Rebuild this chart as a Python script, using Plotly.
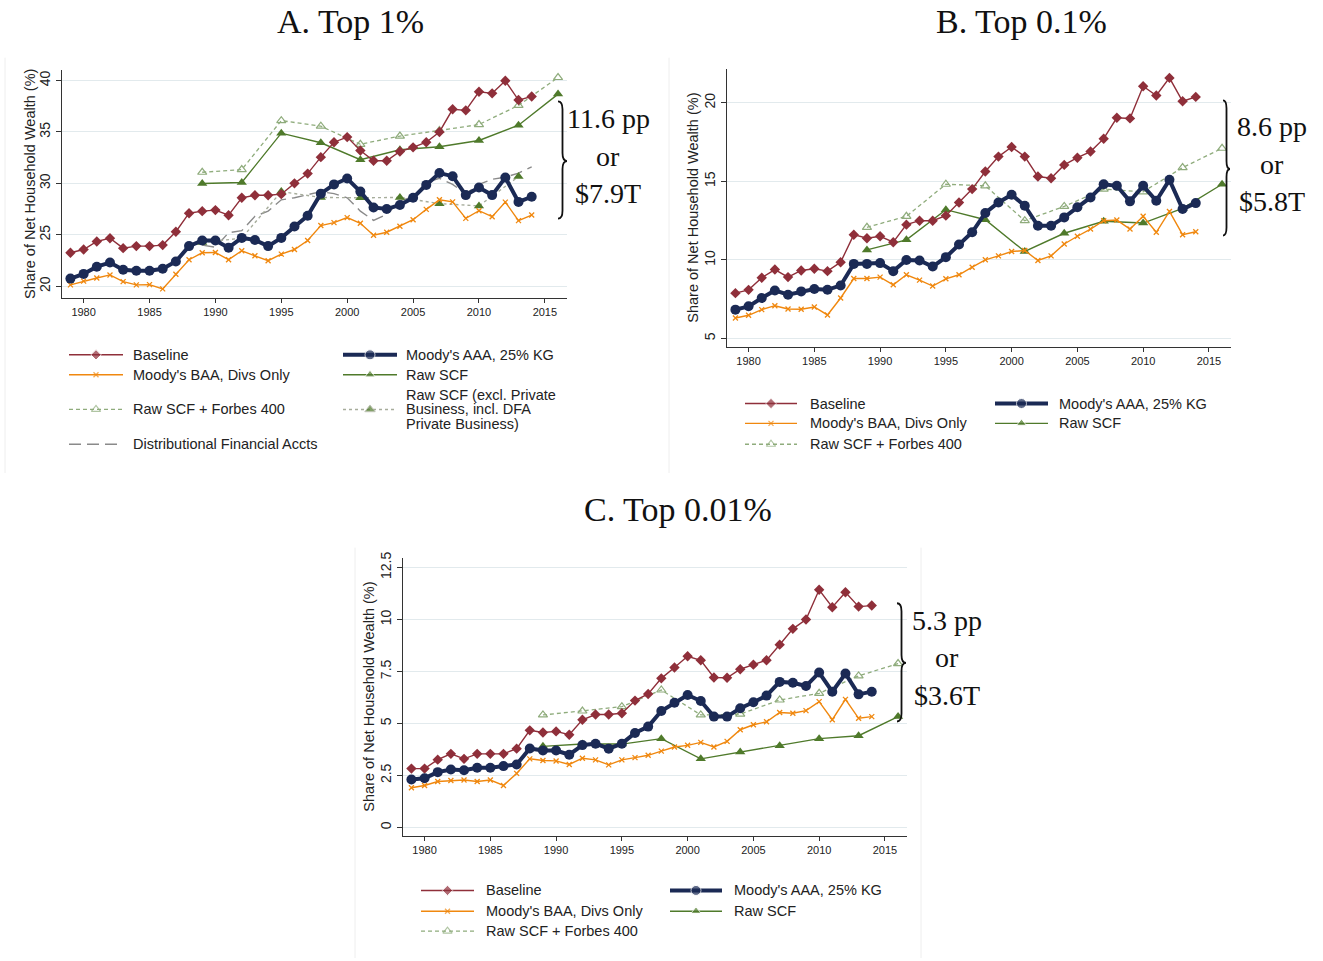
import plotly.graph_objects as go

W, H = 1323, 961

# ---------------- data ----------------
years = list(range(1979, 2015))
scf_years = [1989, 1992, 1995, 1998, 2001, 2004, 2007, 2010, 2013, 2016]
excl_years = [1989, 1992, 1995, 1998, 2001, 2004, 2007, 2010, 2013]
dfa_years = [1989, 1990, 1991, 1992, 1993, 1994, 1995, 1996, 1997, 1998, 1999, 2000, 2001,
             2002, 2003, 2004, 2005, 2006, 2007, 2008, 2009, 2010, 2011, 2012, 2013, 2014]

# Panel A: Top 1%
a_baseline = [23.25, 23.57, 24.35, 24.67, 23.7, 23.9, 23.9, 24.0, 25.3, 27.1, 27.3, 27.4, 26.9, 28.6,
              28.85, 28.85, 28.95, 30.0, 30.95, 32.55, 34.0, 34.5, 33.2, 32.2, 32.2, 33.1, 33.5, 34.0,
              35.0, 37.2, 37.1, 38.9, 38.75, 39.97, 38.1, 38.45]
a_aaa = [20.74, 21.2, 21.9, 22.3, 21.6, 21.5, 21.5, 21.7, 22.4, 23.9, 24.45, 24.45, 23.75, 24.7, 24.5,
         23.9, 24.7, 25.8, 26.85, 29.0, 29.9, 30.47, 29.2, 27.66, 27.5, 27.9, 28.6, 29.85, 31.0, 30.7,
         28.86, 29.6, 28.86, 30.56, 28.2, 28.7]
a_baa = [20.13, 20.5, 20.8, 21.1, 20.45, 20.13, 20.16, 19.74, 21.16, 22.58, 23.25, 23.28, 22.58, 23.45,
         22.96, 22.48, 23.12, 23.57, 24.44, 25.9, 26.18, 26.67, 26.12, 24.96, 25.25, 25.83, 26.47,
         27.47, 28.4, 28.2, 26.6, 27.34, 26.76, 28.18, 26.38, 26.92]
a_raw = [29.98, 30.08, 34.88, 33.95, 32.3, 33.27, 33.56, 34.17, 35.65, 38.68]
a_forbes = [31.08, 31.34, 36.1, 35.56, 33.8, 34.6, 35.14, 35.72, 37.58, 40.29]
a_excl = [24.25, 24.67, 29.2, 28.63, 28.6, 28.63, 28.03, 27.81, 30.66]
a_dfa = [24.0, 23.8, 25.2, 25.4, 26.8, 27.3, 28.4, 28.6, 28.9, 29.2, 29.0, 28.6, 27.3, 26.4, 27.0,
         28.3, 28.7, 30.1, 30.5, 29.9, 29.0, 29.9, 30.4, 30.6, 31.0, 31.6]

# Panel B: Top 0.1%
b_baseline = [7.89, 8.1, 8.87, 9.39, 8.91, 9.33, 9.44, 9.29, 9.86, 11.61, 11.38, 11.51, 11.13, 12.25,
              12.5, 12.5, 12.82, 13.66, 14.51, 15.63, 16.58, 17.19, 16.58, 15.31, 15.2, 16.05, 16.51,
              16.9, 17.72, 19.05, 19.01, 21.06, 20.47, 21.59, 20.1, 20.38]
b_aaa = [6.84, 7.05, 7.58, 8.06, 7.79, 8.0, 8.15, 8.1, 8.38, 9.75, 9.75, 9.8, 9.29, 10.0, 9.97, 9.58,
         10.18, 10.98, 11.76, 12.99, 13.66, 14.15, 13.45, 12.18, 12.18, 12.71, 13.35, 13.98, 14.82,
         14.72, 13.73, 14.72, 13.77, 15.1, 13.24, 13.62]
b_baa = [6.31, 6.48, 6.84, 7.09, 6.88, 6.86, 7.01, 6.5, 7.58, 8.82, 8.82, 8.91, 8.42, 9.06, 8.72, 8.34,
         8.8, 9.06, 9.54, 10.01, 10.26, 10.54, 10.6, 9.97, 10.26, 11.02, 11.51, 11.97, 12.5, 12.54,
         11.97, 12.78, 11.76, 13.09, 11.61, 11.8]
b_raw = [10.64, 11.28, 13.2, 12.56, 10.54, 11.7, 12.46, 12.35, 13.28, 14.82]
b_forbes = [12.08, 12.78, 14.82, 14.72, 12.5, 13.41, 14.51, 14.34, 15.88, 17.11]

# Panel C: Top 0.01%
c_baseline = [2.83, 2.83, 3.26, 3.54, 3.3, 3.54, 3.54, 3.54, 3.79, 4.67, 4.57, 4.62, 4.46, 5.18, 5.43,
              5.43, 5.49, 6.1, 6.42, 7.17, 7.69, 8.23, 8.04, 7.21, 7.2, 7.61, 7.83, 8.04, 8.79, 9.55,
              10.0, 11.43, 10.59, 11.31, 10.62, 10.67]
c_aaa = [2.31, 2.37, 2.66, 2.79, 2.75, 2.87, 2.87, 2.95, 3.03, 3.8, 3.7, 3.7, 3.5, 3.96, 4.03, 3.79,
         4.03, 4.54, 4.85, 5.6, 6.0, 6.37, 6.08, 5.33, 5.33, 5.73, 6.02, 6.34, 7.0, 6.96, 6.8, 7.45,
         6.53, 7.4, 6.4, 6.53]
c_baa = [1.91, 2.02, 2.21, 2.26, 2.28, 2.21, 2.28, 2.02, 2.6, 3.3, 3.22, 3.2, 3.03, 3.33, 3.25, 3.01,
         3.25, 3.36, 3.47, 3.67, 3.87, 3.95, 4.09, 3.87, 4.14, 4.7, 4.94, 5.08, 5.53, 5.49, 5.62,
         6.05, 5.18, 6.16, 5.25, 5.33]
c_raw = [3.9, 4.01, 4.01, 4.27, 3.3, 3.63, 3.93, 4.27, 4.41, 5.33]
c_forbes = [5.41, 5.6, 5.81, 6.61, 5.41, 5.45, 6.13, 6.45, 7.29, 7.88]

x_tickvals = [1980, 1985, 1990, 1995, 2000, 2005, 2010, 2015]
a_yticks = [20, 25, 30, 35, 40]
b_yticks = [5, 10, 15, 20]
c_yticks = [0, 2.5, 5, 7.5, 10, 12.5]
c_yticklabels = ["0", "2.5", "5", "7.5", "10", "12.5"]

titles = ["A. Top 1%", "B. Top 0.1%", "C. Top 0.01%"]
ytitle = "Share of Net Household Wealth (%)"
gaps = [("11.6 pp", "or", "$7.9T"), ("8.6 pp", "or", "$5.8T"), ("5.3 pp", "or", "$3.6T")]
names = {
    "base": "Baseline", "aaa": "Moody's AAA, 25% KG", "baa": "Moody's BAA, Divs Only",
    "raw": "Raw SCF", "forbes": "Raw SCF + Forbes 400",
    "excl": ["Raw SCF (excl. Private", "Business, incl. DFA", "Private Business)"],
    "dfa": "Distributional Financial Accts",
}

# ---------------- styles ----------------
C_BASE, C_AAA, C_BAA = "#8f2f3a", "#1b2a55", "#f0880f"
C_RAW, C_FORBES, C_EXCL, C_DFA = "#4f7a2b", "#8fac7c", "#a7ad9c", "#8a8a8a"

STY = {
    "base": dict(line=dict(color=C_BASE, width=1.4),
                 marker=dict(symbol="diamond", size=8, color=C_BASE)),
    "aaa": dict(line=dict(color=C_AAA, width=4),
                marker=dict(symbol="circle", size=10, color=C_AAA)),
    "baa": dict(line=dict(color=C_BAA, width=1.4),
                marker=dict(symbol="x-thin", size=5, color=C_BAA, line=dict(color=C_BAA, width=1.3))),
    "raw": dict(line=dict(color=C_RAW, width=1.4),
                marker=dict(symbol="triangle-up", size=9, color=C_RAW)),
    "forbes": dict(line=dict(color=C_FORBES, width=1.3, dash="4px,3px"),
                   marker=dict(symbol="triangle-up-open", size=8, color=C_FORBES,
                               line=dict(color=C_FORBES, width=1.2))),
    "excl": dict(line=dict(color=C_EXCL, width=1.4, dash="dot"),
                 marker=dict(symbol="triangle-up", size=9, color=C_RAW)),
    "dfa": dict(line=dict(color=C_DFA, width=1.4, dash="12px,6px"),
                marker=dict(size=0.1, color=C_DFA)),
}


def fx(px):
    return px / W


def fy(py):
    return 1 - py / H


fig = go.Figure()

# panel boxes in pixels: (left, right, top, bottom), axis ranges, y-title x
panels = [
    dict(ax="", box=(62, 567, 64, 294), xr=[1978.36, 2016.68], yr=[18.84, 41.06],
         yt=a_yticks, ytt=[str(v) for v in a_yticks], tx=30),
    dict(ax="2", box=(727, 1231, 63, 343), xr=[1978.36, 2016.68], yr=[4.47, 22.18],
         yt=b_yticks, ytt=[str(v) for v in b_yticks], tx=693),
    dict(ax="3", box=(403, 907, 555, 835), xr=[1978.36, 2016.68], yr=[-0.4, 12.98],
         yt=c_yticks, ytt=c_yticklabels, tx=369),
]

series = [
    dict(forbes=a_forbes, raw=a_raw, dfa=a_dfa, excl=a_excl, baa=a_baa, base=a_baseline, aaa=a_aaa),
    dict(forbes=b_forbes, raw=b_raw, baa=b_baa, base=b_baseline, aaa=b_aaa),
    dict(forbes=c_forbes, raw=c_raw, baa=c_baa, base=c_baseline, aaa=c_aaa),
]

xsrc = {"base": years, "aaa": years, "baa": years, "raw": scf_years, "forbes": scf_years,
        "excl": excl_years, "dfa": dfa_years}

for p, s in zip(panels, series):
    for key, vals in s.items():
        mode = "lines" if key == "dfa" else "lines+markers"
        fig.add_trace(go.Scatter(x=xsrc[key], y=vals, mode=mode, showlegend=False,
                                 xaxis="x" + p["ax"], yaxis="y" + p["ax"],
                                 hoverinfo="skip", cliponaxis=False, **STY[key]))

layout = dict(width=W, height=H, margin=dict(l=0, r=0, t=0, b=0),
              paper_bgcolor="white", plot_bgcolor="rgba(0,0,0,0)", showlegend=False)

annotations = []
shapes = []

for p in panels:
    l, r, t, b = p["box"]
    layout["xaxis" + p["ax"]] = dict(
        domain=[fx(l), fx(r)], range=p["xr"], anchor="y" + p["ax"],
        tickvals=x_tickvals, ticks="outside", ticklen=4, tickcolor="#333",
        showline=True, linecolor="#333", linewidth=1, showgrid=False, zeroline=False,
        tickfont=dict(family="Liberation Sans", size=11, color="#222"))
    layout["yaxis" + p["ax"]] = dict(
        domain=[fy(b), fy(t)], range=p["yr"], anchor="x" + p["ax"],
        tickvals=p["yt"], ticktext=p["ytt"], tickangle=-90, ticks="outside", ticklen=5,
        tickcolor="#333", showline=True, linecolor="#333", linewidth=1,
        showgrid=True, gridcolor="#e2eaed", gridwidth=1.3, zeroline=False,
        tickfont=dict(family="Liberation Sans", size=14, color="#222"))
    annotations.append(dict(text=ytitle, x=fx(p["tx"]), y=fy((t + b) / 2), xref="paper",
                            yref="paper", xanchor="center", yanchor="middle", textangle=-90,
                            showarrow=False,
                            font=dict(family="Liberation Sans", size=14.5, color="#222")))

# overlay axis in pixel units for legend keys
layout["xaxis4"] = dict(domain=[0, 1], range=[0, W], visible=False, anchor="y4", fixedrange=True)
layout["yaxis4"] = dict(domain=[0, 1], range=[H, 0], visible=False, anchor="x4", fixedrange=True)

# titles
for txt, (cx, cy) in zip(titles, [(350, 16), (1021, 16), (678, 507)]):
    annotations.append(dict(text=txt, x=fx(cx), y=fy(cy), xref="paper", yref="paper",
                            xanchor="center", yanchor="middle", showarrow=False,
                            font=dict(family="Liberation Serif", size=34, color="#111")))

# braces and gap labels
braces = [(558, 567, 96, 156, 214, 608), (1223, 1230, 95, 164, 231, 1272),
          (897, 906, 601, 661, 720, 947)]
for (x0, xt, yt, ym, yb, cx), lab in zip(braces, gaps):
    xm = (x0 + xt) / 2
    r = 8
    pts = [("M", [(x0, yt)]), ("Q", [(xm, yt), (xm, yt + r)]), ("L", [(xm, ym - r)]),
           ("Q", [(xm, ym), (xt, ym)]), ("Q", [(xm, ym), (xm, ym + r)]),
           ("L", [(xm, yb - r)]), ("Q", [(xm, yb), (x0, yb)])]
    path = " ".join(c + " " + " ".join(f"{fx(a):.5f},{fy(b):.5f}" for a, b in pp) for c, pp in pts)
    shapes.append(dict(type="path", path=path, xref="paper", yref="paper",
                       line=dict(color="#111", width=1.8)))
    for txt, yy in zip(lab, [ym - 43, ym - 5, ym + 33]):
        annotations.append(dict(text=txt, x=fx(cx), y=fy(yy), xref="paper", yref="paper",
                                xanchor="center", yanchor="middle", showarrow=False,
                                font=dict(family="Liberation Serif", size=28, color="#111")))

# faint graph-region borders
for x, y0, y1 in [(5, 52, 470), (669, 52, 470), (355, 545, 958), (921, 545, 958)]:
    shapes.append(dict(type="line", xref="paper", yref="paper", x0=fx(x), x1=fx(x),
                       y0=fy(y0), y1=fy(y1), line=dict(color="#eeeeee", width=1)))

# legends: (key, key_left, key_right, text_x, y)
legend_items = [
    # panel A
    ("base", 69, 123, 131, 351), ("aaa", 343, 397, 404, 351),
    ("baa", 69, 123, 131, 371), ("raw", 343, 397, 404, 371),
    ("forbes", 69, 123, 131, 406), ("excl", 343, 397, 404, 406),
    ("dfa", 69, 123, 131, 441),
    # panel B
    ("base", 745, 797, 808, 400), ("aaa", 995, 1048, 1057, 400),
    ("baa", 745, 797, 808, 420), ("raw", 995, 1048, 1057, 420),
    ("forbes", 745, 797, 808, 441),
    # panel C
    ("base", 421, 474, 484, 890), ("aaa", 670, 722, 732, 890),
    ("baa", 421, 474, 484, 911), ("raw", 670, 722, 732, 911),
    ("forbes", 421, 474, 484, 931),
]
LFONT = dict(family="Liberation Sans", size=14.5, color="#222")
for key, kl, kr, tx, yy in legend_items:
    st = STY[key]
    mk = dict(st["marker"])
    base_size = mk.get("size", 0)
    mk["size"] = [0, base_size if key != "dfa" else 0, 0]
    fig.add_trace(go.Scatter(x=[kl, (kl + kr) / 2, kr], y=[yy, yy, yy], mode="lines+markers",
                             line=st["line"], marker=mk, xaxis="x4", yaxis="y4",
                             showlegend=False, hoverinfo="skip"))
    lab = names[key]
    if isinstance(lab, list):
        for i, ln in enumerate(lab):
            annotations.append(dict(text=ln, x=fx(tx), y=fy(yy + (i - 1) * 14.7), xref="paper",
                                    yref="paper", xanchor="left", yanchor="middle",
                                    showarrow=False, font=LFONT))
    else:
        annotations.append(dict(text=lab, x=fx(tx), y=fy(yy), xref="paper", yref="paper",
                                xanchor="left", yanchor="middle", showarrow=False, font=LFONT))

layout["annotations"] = annotations
layout["shapes"] = shapes
fig.update_layout(**layout)

fig.write_html("out.html")
